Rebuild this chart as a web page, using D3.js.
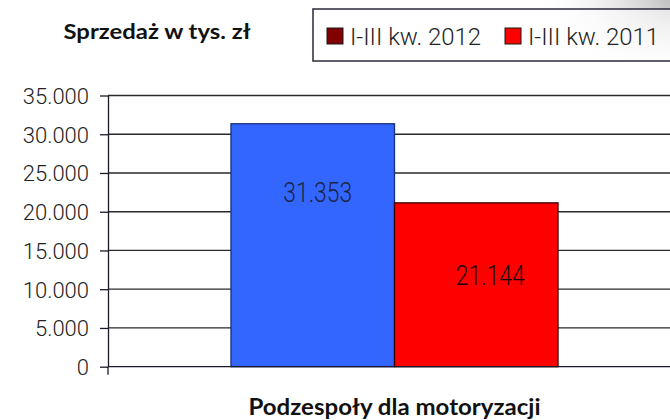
<!DOCTYPE html>
<html>
<head>
<meta charset="utf-8">
<script src="https://cdn.jsdelivr.net/npm/d3@7"></script>
<style>
  body { margin: 0; background: #fff; }
  svg { display: block; }
</style>
</head>
<body>
<svg id="canvas" width="670" height="420"></svg>
<script>
// Data
let categories = ['Podzespoły dla motoryzacji'];
let seriesNames = ['I-III kw. 2012', 'I-III kw. 2011'];
let values2012 = [31353];
let values2011 = [21144];
let yTicks = [0, 5000, 10000, 15000, 20000, 25000, 30000, 35000];
let barColors = ['#3366ff', '#ff0000'];
let barStrokes = ['#1a2f80', '#3a0000'];
let legendColors = ['#800000', '#ff0000'];

let canvas = d3.select('#canvas');
let plLocale = d3.formatLocale({ decimal: ',', thousands: '.', grouping: [3], currency: ['', ' zł'] });
let fmt = plLocale.format(',');

// Grey shading in the top right corner (only around the legend strip)
let defs = canvas.append('defs');
let grad = defs.append('radialGradient')
    .attr('id', 'glow')
    .attr('cx', 680).attr('cy', 0).attr('r', 150)
    .attr('gradientUnits', 'userSpaceOnUse')
    .attr('gradientTransform', 'translate(680,0) scale(1,0.55) translate(-680,0)');
grad.append('stop').attr('offset', '0%').attr('stop-color', '#b8b8b8');
grad.append('stop').attr('offset', '100%').attr('stop-color', '#ffffff').attr('stop-opacity', 0);
canvas.append('rect').attr('width', 670).attr('height', 420).attr('fill', '#fff');
canvas.append('rect').attr('x', 400).attr('width', 270).attr('height', 62).attr('fill', 'url(#glow)');

// Scales
let x = d3.scaleBand().domain(categories).range([108, 681]).paddingInner(0).paddingOuter(0.376);
let xs = d3.scaleBand().domain(seriesNames).range([0, x.bandwidth()]);
let y = d3.scaleLinear().domain([0, 35000]).range([366.7, 95.5]);

// Gridlines
canvas.append('g')
    .selectAll('line')
    .data(yTicks.filter(d => d > 0))
    .enter()
    .append('line')
    .attr('x1', 108).attr('x2', 681)
    .attr('y1', d => y(d)).attr('y2', d => y(d))
    .attr('stroke', '#2a2a2a')
    .attr('stroke-width', 1.3);

// Y axis
let yAxis = canvas.append('g')
    .attr('transform', 'translate(108,0)')
    .call(d3.axisLeft(y).tickValues(yTicks).tickFormat(fmt).tickSize(8).tickSizeOuter(0));
yAxis.select('.domain').attr('stroke', '#1a1a2a').attr('stroke-width', 1.3);
yAxis.selectAll('.tick line').attr('stroke', '#1a1a2a').attr('stroke-width', 1.3);
yAxis.selectAll('.tick text')
    .attr('x', -19)
    .attr('dy', '0.36em')
    .style('font-family', 'Roboto')
    .style('font-weight', 300)
    .style('font-size', '22px')
    .attr('fill', '#222');

// Bars
let rows = categories.map((c, i) => ({ cat: c, vals: [values2012[i], values2011[i]] }));
let groups = canvas.selectAll('.grp')
    .data(rows)
    .enter()
    .append('g')
    .attr('class', 'grp')
    .attr('transform', d => 'translate(' + x(d.cat) + ',0)');

groups.selectAll('rect')
    .data(d => d.vals.map((v, j) => ({ name: seriesNames[j], v: v, j: j })))
    .enter()
    .append('rect')
    .attr('x', d => xs(d.name))
    .attr('y', d => y(d.v))
    .attr('width', xs.bandwidth())
    .attr('height', d => y(0) - y(d.v))
    .attr('fill', d => barColors[d.j])
    .attr('stroke', d => barStrokes[d.j])
    .attr('stroke-width', 1.3);

// Data labels (moved inside bars as in the original)
let labelShift = [{ dx: 5, dy: 78, color: '#1c2540' }, { dx: 14, dy: 82, color: '#1a0000' }];
groups.selectAll('.lbl')
    .data(d => d.vals.map((v, j) => ({ name: seriesNames[j], v: v, j: j })))
    .enter()
    .append('text')
    .attr('class', 'lbl')
    .attr('x', d => xs(d.name) + xs.bandwidth() / 2 + labelShift[d.j].dx - 34.5)
    .attr('y', d => y(d.v) + labelShift[d.j].dy)
    .attr('textLength', 69)
    .attr('lengthAdjust', 'spacingAndGlyphs')
    .style('font-family', 'Roboto')
    .style('font-weight', 300)
    .style('font-size', '28px')
    .attr('fill', d => labelShift[d.j].color)
    .text(d => fmt(d.v));

// X axis line
canvas.append('line')
    .attr('x1', 108).attr('x2', 681)
    .attr('y1', y(0)).attr('y2', y(0))
    .attr('stroke', '#1a1a2a').attr('stroke-width', 1.3);
canvas.append('line')
    .attr('x1', 108).attr('x2', 108)
    .attr('y1', y(0)).attr('y2', y(0) + 8)
    .attr('stroke', '#1a1a2a').attr('stroke-width', 1.3);

// Category label
canvas.selectAll('.cat')
    .data(categories)
    .enter()
    .append('text')
    .attr('class', 'cat')
    .attr('x', d => x(d) + x.bandwidth() / 2 - 146)
    .attr('y', 415)
    .attr('textLength', 292)
    .attr('lengthAdjust', 'spacingAndGlyphs')
    .style('font-family', 'Lato')
    .style('font-weight', 700)
    .style('font-size', '23px')
    .attr('fill', '#111')
    .text(d => d);

// Title
canvas.append('text')
    .attr('x', 63.5)
    .attr('y', 39)
    .attr('textLength', 187)
    .attr('lengthAdjust', 'spacingAndGlyphs')
    .style('font-family', 'Lato')
    .style('font-weight', 700)
    .style('font-size', '21px')
    .attr('fill', '#111')
    .text('Sprzedaż w tys. zł');

// Legend
let legend = canvas.append('g');
legend.append('rect')
    .attr('x', 313).attr('y', 9)
    .attr('width', 380).attr('height', 52)
    .attr('fill', '#ffffff').attr('fill-opacity', 0.55)
    .attr('stroke', '#2a2a3a').attr('stroke-width', 1.5);
let legX = [327, 505];
let legItems = legend.selectAll('.leg')
    .data(seriesNames)
    .enter()
    .append('g')
    .attr('class', 'leg')
    .attr('transform', (d, i) => 'translate(' + legX[i] + ',28)');
legItems.append('rect')
    .attr('width', 16).attr('height', 16)
    .attr('fill', (d, i) => legendColors[i])
    .attr('stroke', '#1a1a1a').attr('stroke-width', 1);
legItems.append('text')
    .attr('x', 23)
    .attr('y', 16.5)
    .attr('textLength', 131)
    .attr('lengthAdjust', 'spacingAndGlyphs')
    .style('font-family', 'Roboto')
    .style('font-weight', 300)
    .style('font-size', '24px')
    .attr('fill', '#222')
    .text(d => d);
</script>
</body>
</html>
